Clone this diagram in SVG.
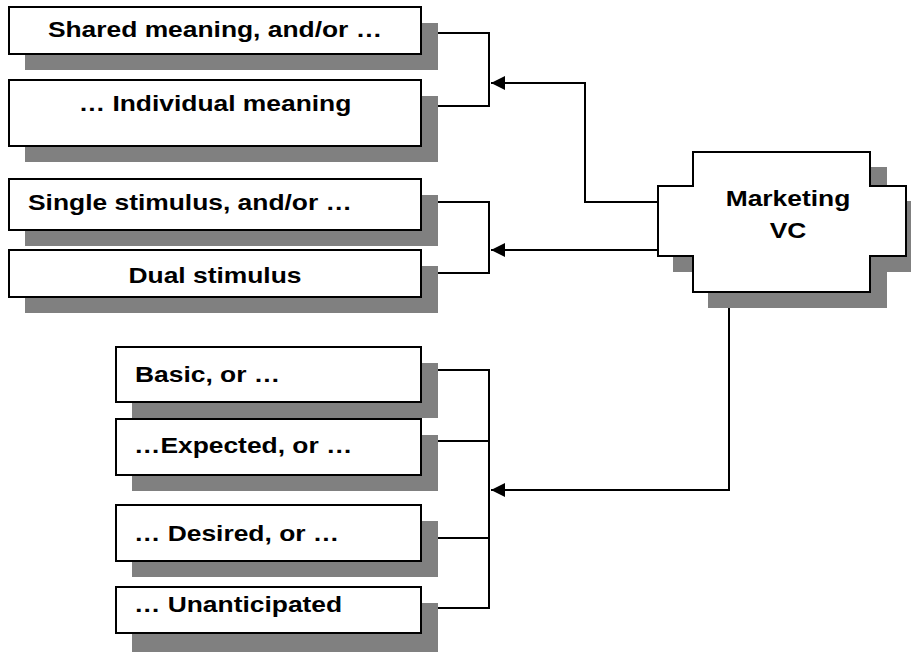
<svg xmlns="http://www.w3.org/2000/svg" width="911" height="658" viewBox="0 0 911 658">
<style>
.box{fill:#fff;stroke:#000;stroke-width:2}
.sh{fill:#808080}
.con{fill:none;stroke:#000;stroke-width:2}
.t{font-family:"Liberation Sans",Arial,sans-serif;font-weight:bold;font-size:22px;fill:#000}
.m{text-anchor:middle}
</style>
<defs>
<marker id="arr" markerUnits="userSpaceOnUse" markerWidth="14" markerHeight="14" viewBox="0 0 14 14" refX="14" refY="7" orient="auto">
<polygon points="0,0 14,7 0,14" fill="#000"/>
</marker>
</defs>
<rect width="911" height="658" fill="#fff"/>
<g id="connectors">
<path class="con" d="M438,33 H489 V106 H438"/>
<path class="con" d="M657,202 H585 V83 H491" marker-end="url(#arr)"/>
<path class="con" d="M438,202 H489 V273 H438"/>
<path class="con" d="M657,250 H491" marker-end="url(#arr)"/>
<path class="con" d="M438,370 H489 V608 H438 M438,441 H489 M438,538 H489"/>
<path class="con" d="M729,300 V490 H491" marker-end="url(#arr)"/>
</g>
<g id="shared">
<rect class="sh" x="25" y="23" width="413" height="47"/>
<rect class="box" x="9" y="7" width="412" height="47"/>
<text class="t m" transform="translate(215,37) scale(1.2,1)">Shared meaning, and/or …</text>
</g>
<g id="individual">
<rect class="sh" x="25" y="96" width="413" height="66"/>
<rect class="box" x="9" y="80" width="412" height="66"/>
<text class="t m" transform="translate(215,111) scale(1.2,1)">… Individual meaning</text>
</g>
<g id="single">
<rect class="sh" x="25" y="195" width="413" height="51"/>
<rect class="box" x="9" y="179" width="412" height="51"/>
<text class="t" transform="translate(28,210) scale(1.2,1)">Single stimulus, and/or …</text>
</g>
<g id="dual">
<rect class="sh" x="25" y="266" width="413" height="47"/>
<rect class="box" x="9" y="250" width="412" height="47"/>
<text class="t m" transform="translate(215,283) scale(1.2,1)">Dual stimulus</text>
</g>
<g id="basic">
<rect class="sh" x="132" y="363" width="306" height="55"/>
<rect class="box" x="116" y="347" width="305" height="55"/>
<text class="t" transform="translate(135,382) scale(1.2,1)">Basic, or …</text>
</g>
<g id="expected">
<rect class="sh" x="132" y="435" width="306" height="56"/>
<rect class="box" x="116" y="419" width="305" height="56"/>
<text class="t" transform="translate(134,453) scale(1.2,1)">…Expected, or …</text>
</g>
<g id="desired">
<rect class="sh" x="132" y="521" width="306" height="56"/>
<rect class="box" x="116" y="505" width="305" height="56"/>
<text class="t" transform="translate(134,541) scale(1.2,1)">… Desired, or …</text>
</g>
<g id="unanticipated">
<rect class="sh" x="132" y="603" width="306" height="49"/>
<rect class="box" x="116" y="587" width="305" height="46"/>
<text class="t" transform="translate(134,612) scale(1.2,1)">… Unanticipated</text>
</g>
<g id="marketing-vc">
<polygon class="sh" points="708,167 887,167 887,201 923,201 923,272 887,272 887,308 708,308 708,272 673,272 673,201 708,201"/>
<polygon class="box" points="693,152 870,152 870,186 906,186 906,256 870,256 870,292 693,292 693,256 658,256 658,186 693,186"/>
<text class="t m" transform="translate(788,206) scale(1.2,1)">Marketing</text>
<text class="t m" transform="translate(788,238) scale(1.2,1)">VC</text>
</g>
</svg>
